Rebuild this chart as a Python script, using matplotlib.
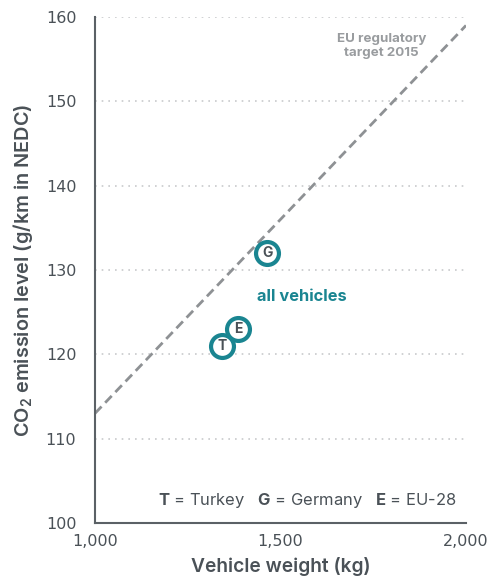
import matplotlib
matplotlib.use("Agg")
import matplotlib.pyplot as plt

plt.rcParams['font.family'] = ['Inter', 'DejaVu Sans']
plt.rcParams['mathtext.fontset'] = 'custom'
plt.rcParams['mathtext.rm'] = 'Inter'
plt.rcParams['mathtext.bf'] = 'Inter:bold'
plt.rcParams['mathtext.default'] = 'regular'

# data
country_codes = ["T", "E", "G"]
vehicle_weight = [1343, 1385, 1464]
co2_level = [121, 123, 132]
target_weight = [1000, 2000]
target_co2 = [113, 159]
x_ticks = [1000, 1500, 2000]
x_tick_labels = ["1,000", "1,500", "2,000"]
y_ticks = [100, 110, 120, 130, 140, 150, 160]

TEAL = "#1a8591"
TXT = "#4a5157"
GRID = "#c8cacc"
LINE = "#8e9194"

fig = plt.figure(figsize=(4.97, 5.84), dpi=100)
ax = fig.add_axes([95/497, 1-523/584, (466-95)/497, (523-17)/584])

ax.set_xlim(1000, 2000)
ax.set_ylim(100, 160)

for y in y_ticks[1:]:
    ax.axhline(y, color=GRID, lw=1.2, ls=(0, (1, 3)), zorder=0)

ax.plot(target_weight, target_co2, color=LINE, lw=2, ls=(0, (3.4, 1.9)), zorder=1, clip_on=True)

ax.scatter(vehicle_weight, co2_level, s=16.5**2, facecolor="white", edgecolor=TEAL,
           linewidth=3, zorder=3)
for c, x, y in zip(country_codes, vehicle_weight, co2_level):
    ax.text(x, y, c, ha="center", va="center", fontsize=10, fontweight="bold",
            color=TXT, zorder=4)

ax.text(1558, 126.9, "all vehicles", ha="center", va="center", fontsize=11.8,
        fontweight="bold", color=TEAL)
ax.text(1773, 156.6, "EU regulatory\ntarget 2015", ha="center", va="center",
        fontsize=9.6, fontweight="bold", color="#999c9f", linespacing=1.2)

# legend text
ax.text(0.975, 0.025, r"$\bf{T}$ = Turkey   $\bf{G}$ = Germany   $\bf{E}$ = EU-28",
        transform=ax.transAxes, ha="right", va="bottom", fontsize=11.9, color=TXT)

ax.set_xticks(x_ticks)
ax.set_xticklabels(x_tick_labels)
ax.set_yticks(y_ticks)
ax.tick_params(length=0, labelsize=11.5, labelcolor=TXT, pad=8)
ax.tick_params(axis="y", pad=13.5)
for lab in ax.get_xticklabels() + ax.get_yticklabels():
    lab.set_family(['DejaVu Sans'])

for s in ["top", "right"]:
    ax.spines[s].set_visible(False)
for s in ["left", "bottom"]:
    ax.spines[s].set_color("#5b6166")
    ax.spines[s].set_linewidth(1.5)

ax.set_xlabel("Vehicle weight (kg)", fontsize=13.8, fontweight="semibold", color=TXT, labelpad=6)
ax.set_ylabel("CO$_2$ emission level (g/km in NEDC)", fontsize=14.3, fontweight="semibold",
              color=TXT, labelpad=8)

fig.savefig("out.png", dpi=100)
